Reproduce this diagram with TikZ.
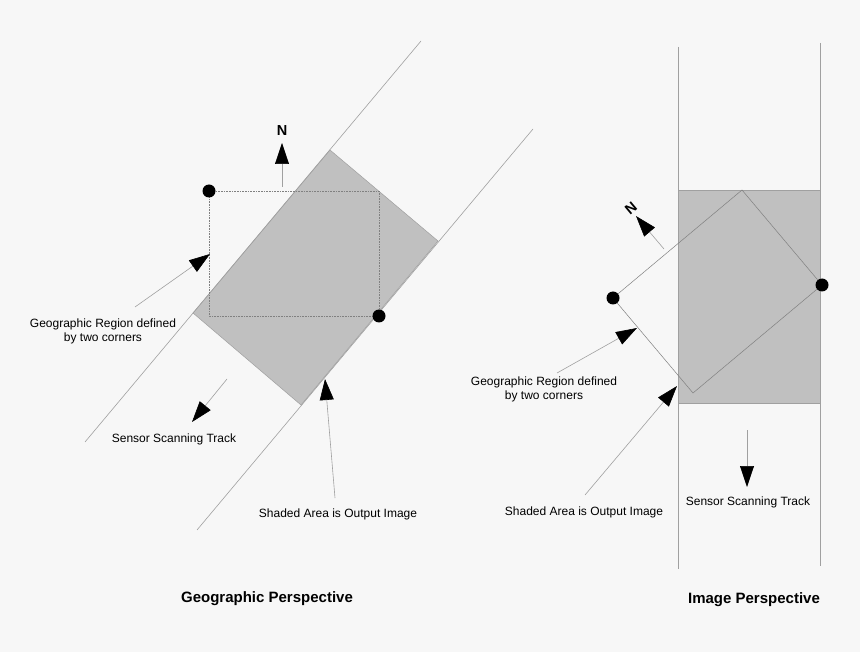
\documentclass[tikz,border=0pt]{standalone}
\usepackage{fontspec}
\setmainfont{Liberation Sans}
\usetikzlibrary{arrows.meta}
\definecolor{bg}{HTML}{F7F7F7}
\definecolor{areagray}{HTML}{C0C0C0}
\definecolor{thin}{HTML}{A0A0A0}
\tikzset{
  thinline/.style={draw=thin, line width=0.6pt},
  pointer/.style={draw=thin, line width=0.6pt, -{Triangle[length=21pt,width=14pt,color=black]}},
  dot/.style={circle, fill=black, inner sep=0pt, minimum size=13pt},
  lbl/.style={font=\fontsize{12}{14}\selectfont, align=center, inner sep=0pt},
  ttl/.style={font=\fontsize{15}{17}\selectfont\bfseries, inner sep=0pt},
  nlbl/.style={font=\fontsize{14.5}{16}\selectfont\bfseries, inner sep=0pt}
}
\begin{document}
\begin{tikzpicture}[x=1pt,y=-1pt]
\fill[bg] (0,0) rectangle (860,652);
\useasboundingbox (0,0) rectangle (860,652);
% ---------- Geographic perspective ----------
\filldraw[fill=areagray, draw=thin, line width=0.5pt] (330,150) -- (438,241) -- (301,405) -- (193,313) -- cycle;
\coordinate (l1a) at (85,442); \coordinate (l1b) at (421,41);
\coordinate (l2a) at (197,530); \coordinate (l2b) at (533,129);
\draw[thinline] (l1a) -- (l1b);
\draw[thinline] (l2a) -- (l2b);
\draw[draw=gray, line width=0.6pt, densely dotted] (209,191) rectangle (379,316);
\node[dot] (gtl) at (209,191) {};
\node[dot] (gbr) at (379,316) {};
% N arrow
\coordinate (gn0) at (282,187); \coordinate (gn1) at (282,143);
\draw[pointer] (gn0) -- (gn1);
\node[nlbl] (gN) at (282,131) {N};
% region label
\node[lbl] (greg) at (103,331) {Geographic Region defined\\by two corners};
\coordinate (gr0) at (135,307); \coordinate (gr1) at (210,254);
\draw[pointer] (gr0) -- (gr1);
% sensor track
\coordinate (gs0) at (227,379); \coordinate (gs1) at (192,422);
\draw[pointer] (gs0) -- (gs1);
\node[lbl] (gsen) at (174,439) {Sensor Scanning Track};
% shaded label
\coordinate (ga0) at (335,498); \coordinate (ga1) at (325,379);
\draw[pointer] (ga0) -- (ga1);
\node[lbl] (gsha) at (338,514) {Shaded Area is Output Image};
\node[ttl] (gtitle) at (267,599) {Geographic Perspective};
% ---------- Image perspective ----------
\filldraw[fill=areagray, draw=thin, line width=0.6pt] (678,190) rectangle (820,403);
\coordinate (v1a) at (678,47); \coordinate (v1b) at (678,569);
\coordinate (v2a) at (820,43); \coordinate (v2b) at (820,566);
\draw[draw=thin, line width=0.8pt] (v1a) -- (v1b);
\draw[draw=thin, line width=0.8pt] (v2a) -- (v2b);
\draw[draw=gray, line width=0.5pt] (742,190) -- (822,285) -- (693,393) -- (613,298) -- cycle;
\node[dot] (itl) at (613,298) {};
\node[dot] (ibr) at (822,285) {};
% rotated N
\coordinate (in0) at (664,249); \coordinate (in1) at (636,216);
\draw[pointer] (in0) -- (in1);
\node[nlbl, rotate=40] (iN) at (631,208) {N};
% region label
\node[lbl] (ireg) at (544,389) {Geographic Region defined\\by two corners};
\coordinate (ir0) at (557,373); \coordinate (ir1) at (637,328);
\draw[pointer] (ir0) -- (ir1);
% shaded label
\coordinate (ia0) at (585,495); \coordinate (ia1) at (677,386);
\draw[pointer] (ia0) -- (ia1);
\node[lbl] (isha) at (584,512) {Shaded Area is Output Image};
% sensor track
\coordinate (is0) at (747,430); \coordinate (is1) at (747,487);
\draw[pointer] (is0) -- (is1);
\node[lbl] (isen) at (748,502) {Sensor Scanning Track};
\node[ttl] (ititle) at (754,600) {Image Perspective};
\end{tikzpicture}
\end{document}
